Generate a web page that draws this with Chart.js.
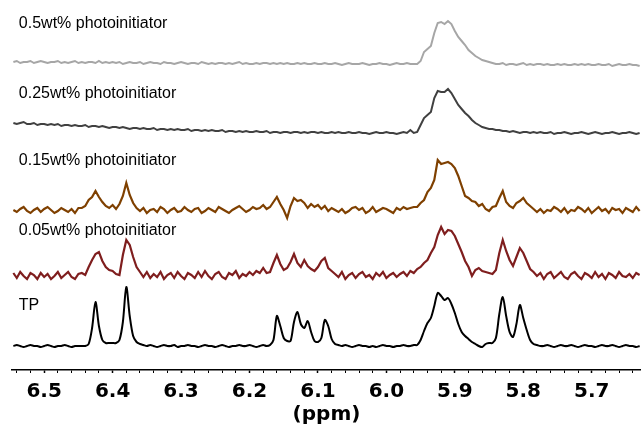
<!DOCTYPE html>
<html lang="en">
<head>
<meta charset="UTF-8">
<title>1H NMR - vinyl region</title>
<script src="https://cdn.jsdelivr.net/npm/chart.js"></script>
<style>
  body { margin: 0; background: #fff; }
</style>
</head>
<body>
<canvas id="nmrChart" width="641" height="428"></canvas>
<script>
// chemical shift axis (ppm), 0.005 ppm per point
const ppm = [
  6.545,6.54,6.535,6.53,6.525,6.52,6.515,6.51,6.505,6.5,
  6.495,6.49,6.485,6.48,6.475,6.47,6.465,6.46,6.455,6.45,
  6.445,6.44,6.435,6.43,6.425,6.42,6.415,6.41,6.405,6.4,
  6.395,6.39,6.385,6.38,6.375,6.37,6.365,6.36,6.355,6.35,
  6.345,6.34,6.335,6.33,6.325,6.32,6.315,6.31,6.305,6.3,
  6.295,6.29,6.285,6.28,6.275,6.27,6.265,6.26,6.255,6.25,
  6.245,6.24,6.235,6.23,6.225,6.22,6.215,6.21,6.205,6.2,
  6.195,6.19,6.185,6.18,6.175,6.17,6.165,6.16,6.155,6.15,
  6.145,6.14,6.135,6.13,6.125,6.12,6.115,6.11,6.105,6.1,
  6.095,6.09,6.085,6.08,6.075,6.07,6.065,6.06,6.055,6.05,
  6.045,6.04,6.035,6.03,6.025,6.02,6.015,6.01,6.005,6.0,
  5.995,5.99,5.985,5.98,5.975,5.97,5.965,5.96,5.955,5.95,
  5.945,5.94,5.935,5.93,5.925,5.92,5.915,5.91,5.905,5.9,
  5.895,5.89,5.885,5.88,5.875,5.87,5.865,5.86,5.855,5.85,
  5.845,5.84,5.835,5.83,5.825,5.82,5.815,5.81,5.805,5.8,
  5.795,5.79,5.785,5.78,5.775,5.77,5.765,5.76,5.755,5.75,
  5.745,5.74,5.735,5.73,5.725,5.72,5.715,5.71,5.705,5.7,
  5.695,5.69,5.685,5.68,5.675,5.67,5.665,5.66,5.655,5.65,
  5.645,5.64,5.635,5.63
];

const traceNames = ['0.5wt% photoinitiator', '0.25wt% photoinitiator', '0.15wt% photoinitiator', '0.05wt% photoinitiator', 'TP'];

// intensities (arbitrary units)
const pi050 = [
  2,3,1,2,2,3,1,2,3,2, 1,2,2,3,1,2,1,2,3,1, 2,1,2,2,1,3,1,2,1,2,
  1,2,0,1,2,1,1,2,0,1, 2,1,1,0,2,1,1,0,1,2, 1,0,1,1,0,2,1,0,1,0,
  1,1,0,1,0,1,2,0,1,0, 0,1,0,1,1,0,1,0,1,0, 1,0,0,1,0,1,0,0,1,0,
  0,1,0,0,1,0,-1,0,1,0, 0,0,1,0,-1,0,0,1,0,0, -1,0,1,0,0,1,0,0,0,3,
  12,15,18,31,41,42,40,43,40,33, 27,23,19,14,11,8,6,4,3,2, 1,0,0,1,-1,0,0,-1,0,1,
  -1,0,-1,0,0,-1,0,-1,-1,0, -1,0,-1,-1,0,-1,0,-1,0,-1, -1,0,-1,-1,0,-2,-1,0,-1,-1,
  0,-1,-1,-2
];
const pi025 = [
  10,9,10,11,9,9,10,8,9,9, 8,9,8,9,7,8,8,7,8,7, 7,8,6,7,7,6,7,6,5,6,
  6,5,6,5,4,5,5,4,5,4, 4,5,3,4,4,3,4,3,4,3, 3,4,2,3,3,2,3,2,3,2,
  2,3,1,2,2,1,2,1,2,1, 1,2,1,1,2,0,1,1,0,1, 1,0,1,1,0,1,0,1,1,0,
  1,0,0,1,0,1,0,0,1,0, 0,1,0,0,-1,0,1,0,0,1, 0,0,-1,0,1,0,3,0,1,8,
  15,18,21,35,42,41,41,44,40,34, 28,24,20,17,13,10,8,6,5,4, 4,3,3,2,2,1,2,1,0,1,
  1,0,1,0,1,0,0,1,-1,0, 0,1,0,-1,0,0,1,0,-1,0, 1,0,-1,0,0,1,0,-1,0,0,
  1,0,-1,0
];
const pi015 = [
  0,-2,1,3,-1,-3,0,2,-2,1, 3,0,-3,-1,2,0,-2,1,-3,2, 2,4,10,13,19,13,8,4,2,5,
  1,6,14,27,15,7,2,-1,2,-3, 0,1,-2,3,1,-3,0,2,-2,-1, 3,0,-2,1,2,-3,-1,2,0,-2,
  3,1,-1,-3,0,2,4,1,-2,0, 3,1,2,5,1,3,8,13,6,0, -8,4,12,9,10,7,2,6,3,5,
  1,4,-1,2,0,-2,1,-3,-1,2, 3,0,2,-3,-1,3,-2,0,2,1, -1,-3,2,0,3,1,2,3,3,7,
  10,18,22,30,50,46,47,48,46,42, 34,24,14,12,9,8,4,6,1,-1, 3,4,12,19,8,4,2,7,9,12,
  7,4,1,-2,1,-3,0,-1,3,1, -2,2,-3,0,-1,3,1,-2,2,-3, 0,3,-1,1,-3,2,0,1,-3,2,
  0,-2,3,-1
];
const pi005 = [
  2,-3,3,-1,-4,2,0,-4,2,-2, 1,-4,-1,3,-3,0,3,-2,-4,1, 2,0,8,15,21,23,14,8,5,4,
  1,0,20,35,30,18,8,3,-2,3, -3,1,-2,3,-4,0,2,-3,3,-1, -4,2,0,-3,3,-2,4,-1,-4,1,
  3,-2,-4,2,0,4,-3,1,-1,3, 0,4,2,7,2,3,12,20,11,5, 7,13,21,12,8,15,9,6,4,8,
  14,17,7,4,1,-2,3,-4,0,2, -3,1,3,-2,0,-4,2,-1,3,-3, 0,2,-2,1,3,-1,4,2,6,8,
  12,15,22,28,40,48,41,45,44,39, 31,23,14,8,-1,5,7,4,3,2, 1,5,22,35,24,15,9,18,27,22,
  14,6,3,-1,2,-4,1,3,-3,0, 3,-2,-4,1,3,-1,-4,2,0,-3, 3,-2,1,-4,2,0,-3,3,-1,-2,
  1,-3,2,0
];
const tp = [
  0,1,0,-1,0,1,0,0,-1,0, 1,0,-1,0,0,1,0,-1,0,0, 0,0,2,18,44,20,6,3,3,3,
  3,6,24,59,30,10,4,2,1,0, 1,0,-1,0,1,0,0,1,-1,0, 0,1,0,0,-1,0,1,0,0,-1,
  0,1,0,-1,0,0,1,0,0,1, 0,-1,0,1,0,1,6,30,20,8, 5,5,24,34,22,18,25,14,5,4,
  8,26,20,7,2,1,0,1,0,-1, 0,1,0,0,-1,0,-1,0,1,0, 0,-1,0,0,1,0,0,1,1,6,
  15,23,28,40,53,50,46,48,42,33, 22,14,10,7,4,2,0,-1,2,3, 3,8,32,49,30,14,9,22,41,28,
  16,6,2,1,0,0,1,0,-1,0, 1,0,0,1,0,-1,0,1,0,0, -1,0,1,0,0,1,0,-1,0,1,
  0,0,-1,0
];

const tickLabels = ['6.5', '6.4', '6.3', '6.2', '6.1', '6.0', '5.9', '5.8', '5.7'];

// stacking + look of each trace
const traceStyles = [
  { color: '#a6a6a6', offset: 306, labelLift: 40, width: 2 },
  { color: '#404040', offset: 237, labelLift: 39, width: 2 },
  { color: '#7f4000', offset: 160, labelLift: 49, width: 2.2 },
  { color: '#7f1e1e', offset: 95, labelLift: 44, width: 2.2 },
  { color: '#000000', offset: 24, labelLift: 40, width: 2 }
];
const series = [pi050, pi025, pi015, pi005, tp];
const labelPpm = 6.537;

const datasets = series.map((vals, i) => ({
  label: traceNames[i],
  data: ppm.map((x, j) => ({ x: x, y: traceStyles[i].offset + vals[j] })),
  borderColor: traceStyles[i].color,
  borderWidth: traceStyles[i].width,
  pointRadius: 0,
  tension: i === 4 ? 0.3 : 0,
  fill: false
}));

const isMajor = v => Math.abs(v * 10 - Math.round(v * 10)) < 1e-6;

// writes the sample name above each trace
const traceLabels = {
  id: 'traceLabels',
  afterDatasetsDraw(chart) {
    const { ctx, scales: { x, y } } = chart;
    ctx.save();
    ctx.font = '16px "Liberation Sans", Arial, sans-serif';
    ctx.fillStyle = '#000';
    ctx.textBaseline = 'middle';
    traceNames.forEach((name, i) => {
      const s = traceStyles[i];
      ctx.fillText(name, x.getPixelForValue(labelPpm), y.getPixelForValue(s.offset + s.labelLift));
    });
    ctx.restore();
  }
};

new Chart(document.getElementById('nmrChart').getContext('2d'), {
  type: 'line',
  data: { datasets: datasets },
  options: {
    responsive: false,
    animation: false,
    layout: { padding: { left: 12, right: 0, top: 0, bottom: 0 } },
    plugins: { legend: { display: false }, tooltip: { enabled: false } },
    scales: {
      x: {
        type: 'linear',
        reverse: true,
        min: 5.628,
        max: 6.547,
        afterFit(scale) { scale.height = 58; },
        border: { display: true, color: '#000', width: 1.5 },
        grid: {
          drawOnChartArea: false,
          drawTicks: true,
          tickLength: 3,
          tickColor: '#000',
          tickWidth: ctx => isMajor(ctx.tick.value) ? 1.5 : 1
        },
        ticks: {
          stepSize: 0.02,
          includeBounds: false,
          autoSkip: false,
          maxRotation: 0,
          padding: 7,
          color: '#000',
          font: { family: '"DejaVu Sans", Verdana, sans-serif', size: 20, weight: 'bold' },
          callback: v => {
            if (!isMajor(v)) return '';
            const t = v.toFixed(1);
            return tickLabels.includes(t) ? t : '';
          }
        },
        title: {
          display: true,
          text: '(ppm)',
          color: '#000',
          font: { family: '"DejaVu Sans", Verdana, sans-serif', size: 20, weight: 'bold' },
          padding: { top: 0, bottom: 1 }
        }
      },
      y: { display: false, min: 0, max: 370 }
    }
  },
  plugins: [traceLabels]
});
</script>
</body>
</html>
